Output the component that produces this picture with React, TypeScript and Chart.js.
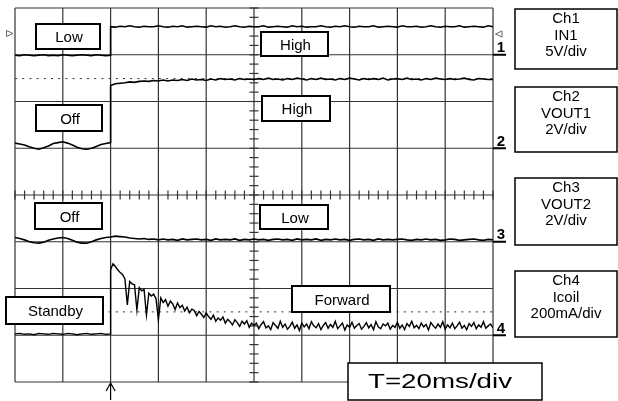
import React, { useEffect, useRef } from "react";
import { Chart, registerables } from "chart.js";

Chart.register(...registerables);

// ---- time base (divisions) ----
const TRIGGER_DIV = 2.0;
const PRE_STEP = 0.1;
const POST_STEP = 0.1;
const CH4_POST_STEP = 0.05;

// ---- trace values, in screen divisions from the top (0..8) ----
const ch1Pre = [1.01, 1.02, 1.0, 1.01, 1.02, 1.01, 1.0, 1.02, 1.01, 1.02, 1.0, 1.01, 1.02, 1.01, 1.0, 1.01, 1.02, 1.0, 1.01, 1.02, 1.01];
const ch1Post = [
  0.4, 0.41, 0.39, 0.4, 0.38, 0.4, 0.41, 0.39, 0.4, 0.4,
  0.38, 0.4, 0.41, 0.39, 0.4, 0.38, 0.41, 0.4, 0.39, 0.4,
  0.41, 0.38, 0.4, 0.39, 0.41, 0.4, 0.38, 0.4, 0.41, 0.39,
  0.4, 0.4, 0.38, 0.41, 0.4, 0.39, 0.4, 0.41, 0.38, 0.4,
  0.39, 0.41, 0.4, 0.4, 0.38, 0.4, 0.41, 0.39, 0.4, 0.38,
  0.4, 0.41, 0.39, 0.4, 0.4, 0.38, 0.41, 0.4, 0.39, 0.4,
  0.41, 0.38, 0.4, 0.4, 0.39, 0.41, 0.4, 0.38, 0.4, 0.41,
  0.39, 0.4, 0.4, 0.38, 0.41, 0.4, 0.39, 0.4, 0.41, 0.38,
  0.4,
];

const ch2Pre = [2.89, 2.91, 2.93, 2.97, 3.0, 3.02, 2.99, 2.95, 2.9, 2.88, 2.86, 2.89, 2.93, 2.98, 3.01, 3.02, 3.0, 2.96, 2.92, 2.9, 2.88];
const ch2Post = [
  1.66, 1.62, 1.61, 1.6, 1.58, 1.59, 1.57, 1.56, 1.57, 1.55,
  1.56, 1.54, 1.56, 1.54, 1.55, 1.53, 1.55, 1.52, 1.54, 1.53,
  1.55, 1.52, 1.54, 1.51, 1.53, 1.52, 1.54, 1.51, 1.53, 1.52,
  1.53, 1.51, 1.53, 1.5, 1.53, 1.52, 1.54, 1.51, 1.53, 1.5,
  1.52, 1.54, 1.51, 1.53, 1.5, 1.53, 1.52, 1.54, 1.51, 1.53,
  1.5, 1.52, 1.54, 1.51, 1.53, 1.51, 1.53, 1.5, 1.54, 1.52,
  1.51, 1.53, 1.5, 1.53, 1.52, 1.54, 1.51, 1.53, 1.5, 1.52,
  1.53, 1.51, 1.53, 1.52, 1.5, 1.53, 1.54, 1.51, 1.52, 1.53,
  1.53,
];

const ch3Pre = [4.91, 4.93, 4.96, 5.0, 5.02, 5.03, 5.01, 4.97, 4.94, 4.92, 4.91, 4.93, 4.97, 5.01, 5.03, 5.03, 5.0, 4.96, 4.93, 4.91, 4.9];
const ch3Post = [
  4.9, 4.88, 4.89, 4.9, 4.92, 4.93, 4.94, 4.93, 4.95, 4.94,
  4.96, 4.94, 4.96, 4.95, 4.97, 4.94, 4.96, 4.95, 4.94, 4.96,
  4.95, 4.97, 4.94, 4.96, 4.95, 4.96, 4.94, 4.97, 4.95, 4.96,
  4.94, 4.96, 4.95, 4.97, 4.95, 4.94, 4.96, 4.95, 4.97, 4.94,
  4.96, 4.95, 4.96, 4.94, 4.97, 4.95, 4.96, 4.94, 4.96, 4.95,
  4.97, 4.95, 4.94, 4.96, 4.95, 4.97, 4.94, 4.96, 4.95, 4.96,
  4.95, 4.94, 4.96, 4.97, 4.95, 4.96, 4.94, 4.96, 4.95, 4.97,
  4.96, 4.94, 4.95, 4.97, 4.96, 4.95, 4.94, 4.96, 4.97, 4.95,
  4.96,
];

const ch4Pre = [6.97, 6.96, 6.98, 6.97, 6.99, 6.96, 6.97, 6.98, 6.96, 6.97, 6.98, 6.96, 6.97, 6.99, 6.97, 6.96, 6.98, 6.97, 6.96, 6.98, 6.97];
const ch4Post = [
  5.6, 5.47, 5.53, 5.6, 5.66, 5.7, 5.8, 6.35, 5.85, 5.9,
  5.92, 6.46, 5.98, 6.05, 6.02, 6.57, 6.1, 6.16, 6.12, 6.22,
  6.67,
  6.2, 6.3, 6.24, 6.38, 6.27, 6.33, 6.45, 6.31, 6.41, 6.36,
  6.48, 6.4, 6.52, 6.44, 6.47, 6.58, 6.49, 6.55, 6.62, 6.52,
  6.6, 6.66, 6.57, 6.7, 6.63, 6.68, 6.61, 6.74, 6.66, 6.71,
  6.78, 6.67, 6.73, 6.81, 6.7, 6.76, 6.69, 6.83, 6.74, 6.79,
  6.74, 6.86, 6.77, 6.71, 6.84, 6.8, 6.88, 6.73, 6.79, 6.85,
  6.7, 6.83, 6.76, 6.87, 6.81, 6.72, 6.85, 6.78, 6.9, 6.74,
  6.82, 6.76, 6.86, 6.71, 6.8, 6.84, 6.75, 6.88, 6.79, 6.73,
  6.85, 6.77, 6.83, 6.7, 6.86, 6.8, 6.74, 6.89, 6.78, 6.83,
  6.72, 6.85, 6.79, 6.75, 6.87, 6.81, 6.73, 6.84, 6.77, 6.88,
  6.71, 6.82, 6.86, 6.76, 6.8, 6.74, 6.87, 6.79, 6.83, 6.72,
  6.85, 6.78, 6.88, 6.75, 6.81, 6.7, 6.84, 6.79, 6.86, 6.74,
  6.82, 6.77, 6.89, 6.73, 6.8, 6.85, 6.76, 6.83, 6.71, 6.87,
  6.78, 6.84, 6.74, 6.86, 6.8, 6.72, 6.85, 6.79, 6.88, 6.75,
  6.81, 6.73, 6.86, 6.78, 6.83, 6.71, 6.85, 6.8, 6.76, 6.84,
];

// reference (dotted) levels and channel ground markers
const ch2RefLevel = 1.51;
const ch4RefLevel = 6.5;
const groundLevels = [1, 3, 5, 7];
const groundNames = ["1", "2", "3", "4"];

// text content
const stateTexts = ["Low", "High", "Off", "High", "Off", "Low", "Standby", "Forward"];
const channelTitles = ["Ch1", "Ch2", "Ch3", "Ch4"];
const channelSignals = ["IN1", "VOUT1", "VOUT2", "Icoil"];
const channelScales = ["5V/div", "2V/div", "2V/div", "200mA/div"];
const timebaseText = "T=20ms/div";

// ---- layout (pixels) ----
const STATE_BOXES = [
  { x: 36, y: 24, w: 64, h: 25 },
  { x: 261, y: 32, w: 67, h: 24 },
  { x: 36, y: 105, w: 66, h: 26 },
  { x: 262, y: 96, w: 68, h: 25 },
  { x: 35, y: 203, w: 67, h: 26 },
  { x: 260, y: 205, w: 68, h: 24 },
  { x: 6, y: 297, w: 97, h: 27 },
  { x: 292, y: 286, w: 98, h: 26 },
];
const INFO_BOXES = [
  { y: 9, h: 60 },
  { y: 87, h: 65 },
  { y: 178, h: 67 },
  { y: 271, h: 66 },
];
const FONT = '"Liberation Sans", Arial, Helvetica, sans-serif';

function buildTrace(pre: number[], post: number[], postStep: number) {
  const pts: { x: number; y: number }[] = pre.map((v, i) => ({ x: i * PRE_STEP, y: v }));
  post.forEach((v, i) => pts.push({ x: TRIGGER_DIV + i * postStep, y: v }));
  return pts;
}

const gridPlugin = {
  id: "scopeGrid",
  beforeDatasetsDraw(chart: any) {
    const { ctx } = chart;
    const xs = chart.scales.x;
    const ys = chart.scales.y;
    const top = ys.getPixelForValue(0);
    const bottom = ys.getPixelForValue(8);
    const left = xs.getPixelForValue(0);
    const right = xs.getPixelForValue(10);
    ctx.save();
    ctx.strokeStyle = "#333";
    ctx.lineWidth = 1.2;
    for (let k = 0; k <= 10; k++) {
      const x = xs.getPixelForValue(k);
      ctx.beginPath();
      ctx.moveTo(x, top);
      ctx.lineTo(x, bottom);
      ctx.stroke();
    }
    for (let k = 0; k <= 8; k++) {
      const y = ys.getPixelForValue(k);
      ctx.beginPath();
      ctx.moveTo(left, y);
      ctx.lineTo(right, y);
      ctx.stroke();
    }
    // center cross minor ticks
    const cx = xs.getPixelForValue(5);
    const cy = ys.getPixelForValue(4);
    for (let k = 0; k <= 50; k++) {
      const x = xs.getPixelForValue(k * 0.2);
      ctx.beginPath();
      ctx.moveTo(x, cy - 4.5);
      ctx.lineTo(x, cy + 4.5);
      ctx.stroke();
    }
    for (let k = 0; k <= 40; k++) {
      const y = ys.getPixelForValue(k * 0.2);
      ctx.beginPath();
      ctx.moveTo(cx - 4.5, y);
      ctx.lineTo(cx + 4.5, y);
      ctx.stroke();
    }
    ctx.restore();
  },
};

const overlayPlugin = {
  id: "scopeOverlay",
  afterDatasetsDraw(chart: any) {
    const { ctx } = chart;
    const xs = chart.scales.x;
    const ys = chart.scales.y;
    ctx.save();
    ctx.textAlign = "center";
    ctx.textBaseline = "alphabetic";

    // state label boxes
    STATE_BOXES.forEach((b, i) => {
      ctx.fillStyle = "#fff";
      ctx.fillRect(b.x, b.y, b.w, b.h);
      ctx.lineWidth = 2;
      ctx.strokeStyle = "#000";
      ctx.strokeRect(b.x, b.y, b.w, b.h);
      ctx.fillStyle = "#000";
      ctx.font = `15px ${FONT}`;
      ctx.fillText(stateTexts[i], b.x + b.w / 2 + 1, b.y + b.h / 2 + 5.5);
    });

    // channel ground markers
    groundLevels.forEach((g, i) => {
      const y = ys.getPixelForValue(g);
      ctx.fillStyle = "#000";
      ctx.fillRect(493, y - 1, 13, 2);
      ctx.font = `bold 15px ${FONT}`;
      ctx.fillText(groundNames[i], 501, y - 2.5);
    });

    // trigger level markers
    ctx.strokeStyle = "#666";
    ctx.lineWidth = 1;
    ctx.beginPath();
    ctx.moveTo(6.5, 30.5);
    ctx.lineTo(13, 33.5);
    ctx.lineTo(6.5, 36.5);
    ctx.closePath();
    ctx.stroke();
    ctx.beginPath();
    ctx.moveTo(502, 31);
    ctx.lineTo(495.5, 34);
    ctx.lineTo(502, 37);
    ctx.closePath();
    ctx.stroke();

    // trigger position arrow
    const tx = xs.getPixelForValue(TRIGGER_DIV);
    ctx.strokeStyle = "#000";
    ctx.lineWidth = 1.2;
    ctx.beginPath();
    ctx.moveTo(tx, 383);
    ctx.lineTo(tx, 400);
    ctx.moveTo(tx - 4.5, 391);
    ctx.lineTo(tx, 383);
    ctx.lineTo(tx + 4.5, 391);
    ctx.stroke();

    // right info boxes
    INFO_BOXES.forEach((b, i) => {
      ctx.fillStyle = "#fff";
      ctx.fillRect(515, b.y, 102, b.h);
      ctx.lineWidth = 1.5;
      ctx.strokeStyle = "#000";
      ctx.strokeRect(515, b.y, 102, b.h);
      ctx.fillStyle = "#000";
      ctx.font = `15px ${FONT}`;
      const lines = [channelTitles[i], channelSignals[i], channelScales[i]];
      lines.forEach((t, j) => {
        ctx.fillText(t, 566, b.y + 14 + j * 16.5);
      });
    });

    // timebase box
    ctx.fillStyle = "#fff";
    ctx.fillRect(348, 363, 194, 37);
    ctx.lineWidth = 1.5;
    ctx.strokeStyle = "#000";
    ctx.strokeRect(348, 363, 194, 37);
    ctx.fillStyle = "#000";
    ctx.font = `21px ${FONT}`;
    ctx.textAlign = "left";
    const w = ctx.measureText(timebaseText).width;
    ctx.translate(368, 387.5);
    ctx.scale(144 / w, 1);
    ctx.fillText(timebaseText, 0, 0);
    ctx.restore();
  },
};

export default function App() {
  const canvasRef = useRef<HTMLCanvasElement | null>(null);

  useEffect(() => {
    document.body.style.margin = "0";
    const canvas = canvasRef.current;
    if (!canvas) return;
    const traceStyle = (w: number) => ({
      borderColor: "#000",
      borderWidth: w,
      pointRadius: 0,
      tension: 0,
      fill: false,
    });
    const chart = new Chart(canvas, {
      type: "line",
      data: {
        datasets: [
          { label: "Ch1", data: buildTrace(ch1Pre, ch1Post, POST_STEP), ...traceStyle(1.6), order: 1 },
          { label: "Ch2", data: buildTrace(ch2Pre, ch2Post, POST_STEP), ...traceStyle(1.6), order: 1 },
          { label: "Ch3", data: buildTrace(ch3Pre, ch3Post, POST_STEP), ...traceStyle(1.6), order: 1 },
          { label: "Ch4", data: buildTrace(ch4Pre, ch4Post, CH4_POST_STEP), ...traceStyle(1.4), order: 1 },
          {
            label: "Ch2 ref",
            data: [{ x: 0, y: ch2RefLevel }, { x: 10, y: ch2RefLevel }],
            borderColor: "#333",
            borderWidth: 1,
            borderDash: [2, 5.2],
            pointRadius: 0,
            order: 10,
          },
          {
            label: "Ch4 ref",
            data: [{ x: 0, y: ch4RefLevel }, { x: 10, y: ch4RefLevel }],
            borderColor: "#333",
            borderWidth: 1,
            borderDash: [2, 5.2],
            pointRadius: 0,
            order: 10,
          },
        ],
      },
      options: {
        animation: false,
        responsive: false,
        devicePixelRatio: 1,
        events: [],
        layout: { padding: { left: 15, right: 125, top: 8, bottom: 19 } },
        plugins: { legend: { display: false }, tooltip: { enabled: false } },
        scales: {
          x: { type: "linear", min: 0, max: 10, display: false },
          y: { type: "linear", min: 0, max: 8, reverse: true, display: false },
        },
      },
      plugins: [gridPlugin, overlayPlugin],
    } as any);
    return () => chart.destroy();
  }, []);

  return (
    <div style={{ position: "fixed", left: 0, top: 0, width: 618, height: 401, background: "#fff" }}>
      <canvas ref={canvasRef} width={618} height={401} style={{ display: "block" }} />
    </div>
  );
}
